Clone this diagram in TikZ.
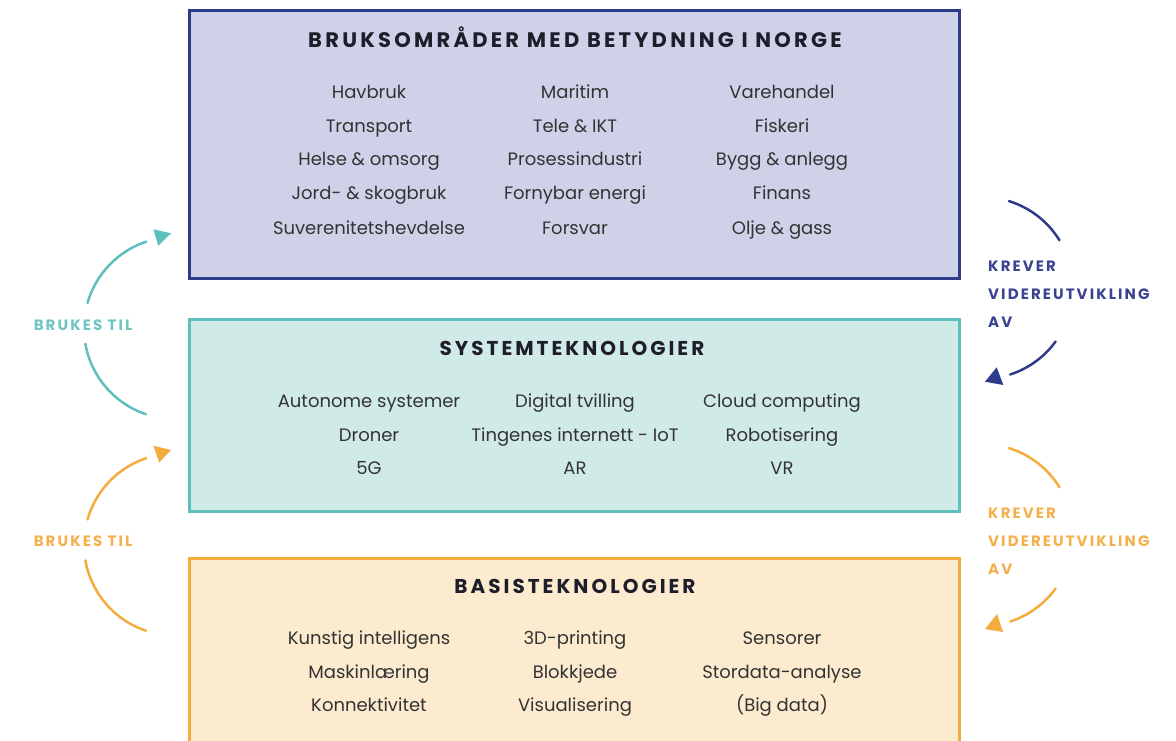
\documentclass[tikz,border=0pt]{standalone}
\usepackage{fontspec}
\setmainfont{Poppins}
\usetikzlibrary{calc}
\definecolor{navyc}{HTML}{2E3A8A}
\definecolor{navyfill}{HTML}{CFD1E8}
\definecolor{tealc}{HTML}{5EC0BC}
\definecolor{tealfill}{HTML}{D0EAE8}
\definecolor{orangec}{HTML}{F5AC3E}
\definecolor{orangefill}{HTML}{FDEBD0}
\definecolor{txtc}{HTML}{333333}
\definecolor{titlec}{HTML}{1E1E2A}
\definecolor{tealtxt}{HTML}{6EC5C1}
\definecolor{orangetxt}{HTML}{F4B04D}
\definecolor{navytxt}{HTML}{3B4391}
\begin{document}
\begin{tikzpicture}[x=1pt,y=-1pt,
  box/.style={draw, line width=3pt, minimum width=770pt, inner sep=0pt},
  item/.style={anchor=base, font=\fontsize{18}{22}\selectfont, text=txtc, inner sep=0pt},
  boxtitle/.style={anchor=base, font=\fontsize{20}{24}\selectfont\bfseries\addfontfeature{LetterSpace=15}, text=titlec, inner sep=0pt},
  bigtitle/.style={anchor=base, font=\fontsize{21}{24}\selectfont\bfseries\addfontfeature{LetterSpace=15.5}, text=titlec, inner sep=0pt},
  lbl/.style={font=\fontsize{15}{18}\selectfont\bfseries\addfontfeature{LetterSpace=14}, inner sep=0pt},
  arcline/.style={line width=2.5pt, line cap=round}
]
\useasboundingbox (0,0) rectangle (1176,741);
\clip (0,0) rectangle (1176,741);

% boxes
\node[box, draw=navyc, fill=navyfill, minimum height=267pt] (top) at (574,144.5) {};
\node[box, draw=tealc, fill=tealfill, minimum height=192pt] (mid) at (574,415) {};
\node[box, draw=orangec, fill=orangefill, minimum height=202pt] (bot) at (574,659) {};

% top box
\node[bigtitle] (t1) at (575,48) {BRUKSOMRÅDER MED BETYDNING I NORGE};
\node[item] (a11) at (369,99) {Havbruk};
\node[item] (a12) at (575,99) {Maritim};
\node[item] (a13) at (782,99) {Varehandel};
\node[item] (a21) at (369,133) {Transport};
\node[item] (a22) at (575,133) {Tele \& IKT};
\node[item] (a23) at (782,133) {Fiskeri};
\node[item] (a31) at (369,166) {Helse \& omsorg};
\node[item] (a32) at (575,166) {Prosessindustri};
\node[item] (a33) at (782,166) {Bygg \& anlegg};
\node[item] (a41) at (369,200) {Jord- \& skogbruk};
\node[item] (a42) at (575,200) {Fornybar energi};
\node[item] (a43) at (782,200) {Finans};
\node[item] (a51) at (369,234) {Suverenitetshevdelse};
\node[item] (a52) at (575,234) {Forsvar};
\node[item] (a53) at (782,234) {Olje \& gass};

% middle box
\node[boxtitle] (t2) at (572,355) {SYSTEMTEKNOLOGIER};
\node[item] (b11) at (369,407) {Autonome systemer};
\node[item] (b12) at (575,407) {Digital tvilling};
\node[item] (b13) at (782,407) {Cloud computing};
\node[item] (b21) at (369,441) {Droner};
\node[item] (b22) at (575,441) {Tingenes internett - IoT};
\node[item] (b23) at (782,441) {Robotisering};
\node[item] (b31) at (369,474) {5G};
\node[item] (b32) at (575,474) {AR};
\node[item] (b33) at (782,474) {VR};

% bottom box
\node[boxtitle] (t3) at (575,593) {BASISTEKNOLOGIER};
\node[item] (c11) at (369,644) {Kunstig intelligens};
\node[item] (c12) at (575,644) {3D-printing};
\node[item] (c13) at (782,644) {Sensorer};
\node[item] (c21) at (369,678) {Maskinlæring};
\node[item] (c22) at (575,678) {Blokkjede};
\node[item] (c23) at (782,678) {Stordata-analyse};
\node[item] (c31) at (369,711) {Konnektivitet};
\node[item] (c32) at (575,711) {Visualisering};
\node[item] (c33) at (782,711) {(Big data)};

% left labels and arcs
\coordinate (lc1) at (175,328);
\coordinate (lc2) at (175,544.5);
\node[lbl, text=tealtxt, anchor=base] (l1) at (83,330) {BRUKES TIL};
\node[lbl, text=orangetxt, anchor=base] (l2) at (83,546) {BRUKES TIL};
\draw[arcline, tealc] ($(lc1)+(196:91)$) arc[start angle=196, end angle=251.6, radius=91];
\draw[arcline, tealc] ($(lc1)+(170:91)$) arc[start angle=170, end angle=108.6, radius=91];
\draw[arcline, orangec] ($(lc2)+(196:91)$) arc[start angle=196, end angle=251.6, radius=91];
\draw[arcline, orangec] ($(lc2)+(170:91)$) arc[start angle=170, end angle=108.6, radius=91];
\fill[tealc] (153.3,229.3) -- (171,233.3) -- (158.3,245.7) -- cycle;
\fill[orangec] (153.3,445.7) -- (171,450) -- (159.3,462.5) -- cycle;

% right labels and arcs
\coordinate (rc1) at (982,288);
\coordinate (rc2) at (982,535);
\node[lbl, text=navytxt, anchor=base west] (r11) at (988,271) {KREVER};
\node[lbl, text=navytxt, anchor=base west] (r12) at (988,299) {VIDEREUTVIKLING};
\node[lbl, text=navytxt, anchor=base west] (r13) at (988,327) {AV};
\node[lbl, text=orangetxt, anchor=base west] (r21) at (988,518) {KREVER};
\node[lbl, text=orangetxt, anchor=base west] (r22) at (988,546) {VIDEREUTVIKLING};
\node[lbl, text=orangetxt, anchor=base west] (r23) at (988,574) {AV};
\draw[arcline, navyc] ($(rc1)+(-72.8:91)$) arc[start angle=-72.8, end angle=-31.6, radius=91];
\draw[arcline, navyc] ($(rc1)+(36:91)$) arc[start angle=36, end angle=72, radius=91];
\draw[arcline, orangec] ($(rc2)+(-72.8:91)$) arc[start angle=-72.8, end angle=-31.6, radius=91];
\draw[arcline, orangec] ($(rc2)+(36:91)$) arc[start angle=36, end angle=72, radius=91];
\fill[navyc] (985,381.7) -- (1003.3,385) -- (996.7,367.3) -- cycle;
\fill[orangec] (985,629) -- (1003,632) -- (997,614) -- cycle;
\end{tikzpicture}
\end{document}
